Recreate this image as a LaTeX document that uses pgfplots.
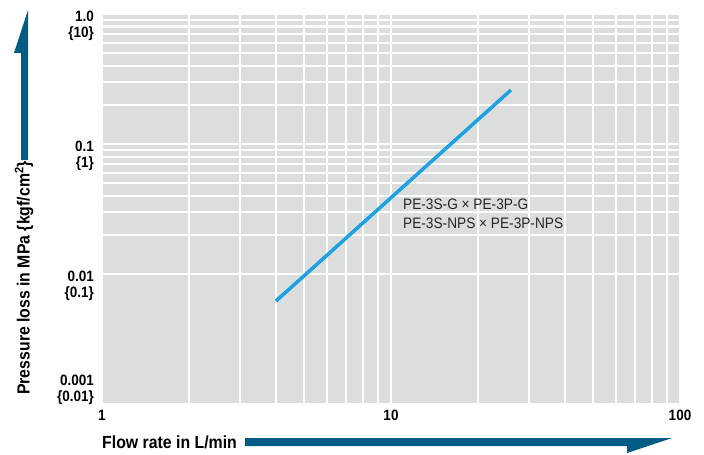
\documentclass[border=0pt]{standalone}
\usepackage{pgfplots}
\pgfplotsset{compat=1.18}
\usepackage{fontspec}
\setmainfont{Liberation Sans}[FakeStretch=0.9]
\definecolor{bggray}{RGB}{220,221,221}
\definecolor{lineblue}{RGB}{29,161,226}
\definecolor{arrowblue}{RGB}{0,91,133}
\begin{document}
\begin{tikzpicture}[x=1pt,y=1pt]
\path[use as bounding box] (0,0) rectangle (704,-455);
\begin{axis}[
 at={(102pt,-404pt)}, anchor=south west,
 scale only axis, width=578pt, height=390pt,
 xmode=log, ymode=log, xmin=1, xmax=100, ymin=0.001, ymax=1,
 axis background/.style={fill=bggray},
 axis line style={draw=none},
 major tick length=0pt, minor tick length=0pt,
 grid=both,
 major grid style={white,line width=2.2pt},
 minor grid style={white,line width=2.2pt},
 xtick={1,10,100}, xticklabels={1,10,100},
 ytick={0.01,0.1,1},
 yticklabels={{0.01\\\{0.1\}},{0.1\\\{1\}},{1.0\\\{10\}}},
 extra y ticks={0.001},
 extra y tick labels={{0.001\\\{0.01\}}},
 extra y tick style={yticklabel style={anchor=south east,yshift=-4pt}},
 xticklabel style={font=\fontsize{15}{16}\selectfont\bfseries, anchor=north, inner sep=0pt, yshift=-6pt},
 yticklabel style={font=\fontsize{15}{16}\selectfont\bfseries, align=right, anchor=north east, inner sep=0pt, xshift=-8pt, yshift=3pt},
 clip=false,
]
\addplot[lineblue, line width=3.5pt] coordinates {(4,0.0062) (26,0.26)};
\node[anchor=west, align=left, font=\fontsize{15.2}{18.5}\selectfont, text=black!85, inner sep=0pt] at (axis cs:11,0.029) {PE-3S-G × PE-3P-G\\PE-3S-NPS × PE-3P-NPS};
\end{axis}
\node[anchor=west, font=\fontsize{17.6}{18}\selectfont\bfseries, inner sep=0pt] at (102,-442) {Flow rate in L/min};
\node[rotate=90, anchor=west, font=\fontsize{17.6}{18}\selectfont\bfseries, inner sep=0pt] at (24,-395) {Pressure loss in MPa \{kgf/cm\textsuperscript{2}\}};
\fill[arrowblue] (245,-438) -- (672,-438) -- (627,-453) -- (627,-446) -- (245,-446) -- cycle;
\fill[arrowblue] (28,-10) -- (28,-160) -- (21,-160) -- (21,-53) -- (14,-53) -- cycle;
\end{tikzpicture}
\end{document}
